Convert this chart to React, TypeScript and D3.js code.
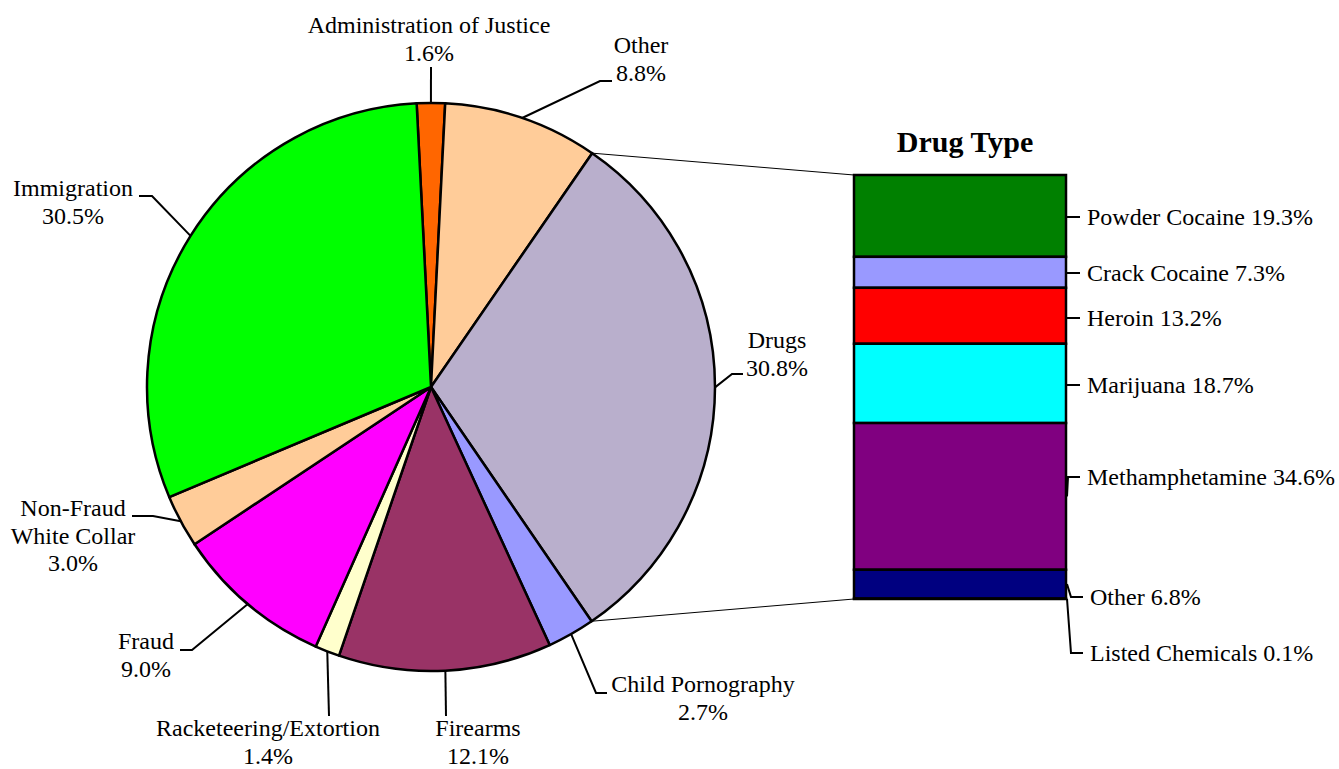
import * as d3 from 'd3';

// Offense categories (pie), clockwise from the top
const offenses = ["Administration of Justice", "Other", "Drugs", "Child Pornography", "Firearms",
  "Racketeering/Extortion", "Fraud", "Non-Fraud White Collar", "Immigration"];
const offenseShares = [1.6, 8.8, 30.8, 2.7, 12.1, 1.4, 9.0, 3.0, 30.5];
const offenseColors = ["#FF6600", "#FFCC99", "#B9AFCC", "#9999FF", "#993366",
  "#FFFFCC", "#FF00FF", "#FFCC99", "#00FF00"];

// Drug type breakdown (stacked bar), top to bottom
const drugTypes = ["Powder Cocaine", "Crack Cocaine", "Heroin", "Marijuana",
  "Methamphetamine", "Other", "Listed Chemicals"];
const drugShares = [19.3, 7.3, 13.2, 18.7, 34.6, 6.8, 0.1];
const drugColors = ["#008000", "#9999FF", "#FF0000", "#00FFFF", "#800080", "#000080", "#000080"];

const W = 1339;
const H = 769;
const FONT = "'Liberation Serif', 'Times New Roman', serif";
const FS = 24;
const LH = 27.6;

const cx = 431, cy = 387, R = 284;
const startDeg = -2.9;

// label layout: text centre x, first baseline, extra lines, leader bend points
const pieLabels: Record<string, { x: number; y: number; lines: string[]; leader: [number, number][] }> = {
  "Administration of Justice": { x: 429, y: 33, lines: ["Administration of Justice"], leader: [[431, 67]] },
  "Other": { x: 641, y: 53, lines: ["Other"], leader: [[600, 81], [612, 81]] },
  "Drugs": { x: 777, y: 348, lines: ["Drugs"], leader: [[732, 374], [743, 374]] },
  "Child Pornography": { x: 703, y: 692, lines: ["Child Pornography"], leader: [[596, 693], [607, 693]] },
  "Firearms": { x: 478, y: 736, lines: ["Firearms"], leader: [[446, 716]] },
  "Racketeering/Extortion": { x: 268, y: 736, lines: ["Racketeering/Extortion"], leader: [[329, 716]] },
  "Fraud": { x: 146, y: 649, lines: ["Fraud"], leader: [[192, 650], [180, 650]] },
  "Non-Fraud White Collar": { x: 73, y: 516, lines: ["Non-Fraud", "White Collar"], leader: [[153, 516], [132, 516]] },
  "Immigration": { x: 73, y: 196, lines: ["Immigration"], leader: [[152, 196], [139, 196]] },
};

// bar box
const bx0 = 854, bx1 = 1066, by0 = 175, by1 = 599;
const drugLabelY = [217, 273, 318, 385, 477, 597, 653];

export default function App() {
  const pieData = offenses.map((name, i) => ({ name, value: offenseShares[i], color: offenseColors[i] }));
  const a0 = (startDeg * Math.PI) / 180;
  const arcs = d3.pie<typeof pieData[0]>()
    .value(d => d.value)
    .sort(null)
    .startAngle(a0)
    .endAngle(a0 + 2 * Math.PI)(pieData);
  const arc = d3.arc<d3.PieArcDatum<typeof pieData[0]>>().innerRadius(0).outerRadius(R);
  const onEdge = (a: number): [number, number] => [cx + R * Math.sin(a), cy - R * Math.cos(a)];

  const drugsArc = arcs.find(a => a.data.name === "Drugs")!;
  const pTop = onEdge(drugsArc.startAngle);
  const pBot = onEdge(drugsArc.endAngle);

  const y = d3.scaleLinear().domain([0, d3.sum(drugShares)]).range([by0, by1]);
  const cum = d3.cumsum(drugShares);
  const bars = drugTypes.map((name, i) => ({
    name, value: drugShares[i], color: drugColors[i],
    y0: y(cum[i] - drugShares[i]), y1: y(cum[i]),
  }));

  const line = d3.line();

  return (
    <svg width={W} height={H} style={{ position: 'absolute', left: 0, top: 0, background: '#fff' }}
      fontFamily={FONT} fontSize={FS}>
      {/* connector lines */}
      <path d={line([pTop, [bx0, by0]])!} stroke="#000" strokeWidth={1} fill="none" />
      <path d={line([pBot, [bx0, by1]])!} stroke="#000" strokeWidth={1} fill="none" />

      {/* pie */}
      <g transform={`translate(${cx},${cy})`}>
        {arcs.map(a => (
          <path key={a.data.name} d={arc(a)!} fill={a.data.color} stroke="#000" strokeWidth={2.5}
            strokeLinejoin="round" />
        ))}
      </g>

      {/* pie labels */}
      {arcs.map(a => {
        const lab = pieLabels[a.data.name];
        const mid = (a.startAngle + a.endAngle) / 2;
        const pts = [onEdge(mid), ...lab.leader];
        const lines = [...lab.lines, `${a.data.value.toFixed(1)}%`];
        return (
          <g key={a.data.name}>
            <path d={line(pts)!} stroke="#000" strokeWidth={2} fill="none" />
            <text x={lab.x} y={lab.y} textAnchor="middle" fill="#000">
              {lines.map((t, i) => (
                <tspan key={i} x={lab.x} dy={i === 0 ? 0 : LH}>{t}</tspan>
              ))}
            </text>
          </g>
        );
      })}

      {/* drug bar */}
      <text x={(bx0 + bx1) / 2 + 5} y={152} textAnchor="middle" fontWeight="bold" fontSize={30}>Drug Type</text>
      {bars.map(b => (
        <rect key={b.name} x={bx0} y={b.y0} width={bx1 - bx0} height={Math.max(0, b.y1 - b.y0)}
          fill={b.color} stroke="#000" strokeWidth={2.5} />
      ))}
      {bars.map((b, i) => {
        const ly = drugLabelY[i];
        const mid = (b.y0 + b.y1) / 2;
        const endX = i >= 5 ? 1083 : 1080;
        const bendX = i >= 5 ? 1071 : 1068;
        const pts: [number, number][] = Math.abs(mid - ly) < 3
          ? [[bx1, ly], [endX, ly]]
          : [[bx1 + 1, mid], [bendX, ly], [endX, ly]];
        return (
          <g key={b.name}>
            <path d={line(pts)!} stroke="#000" strokeWidth={2} fill="none" />
            <text x={endX + 7} y={ly} dy="0.35em" fill="#000">{`${b.name} ${b.value.toFixed(1)}%`}</text>
          </g>
        );
      })}
    </svg>
  );
}
